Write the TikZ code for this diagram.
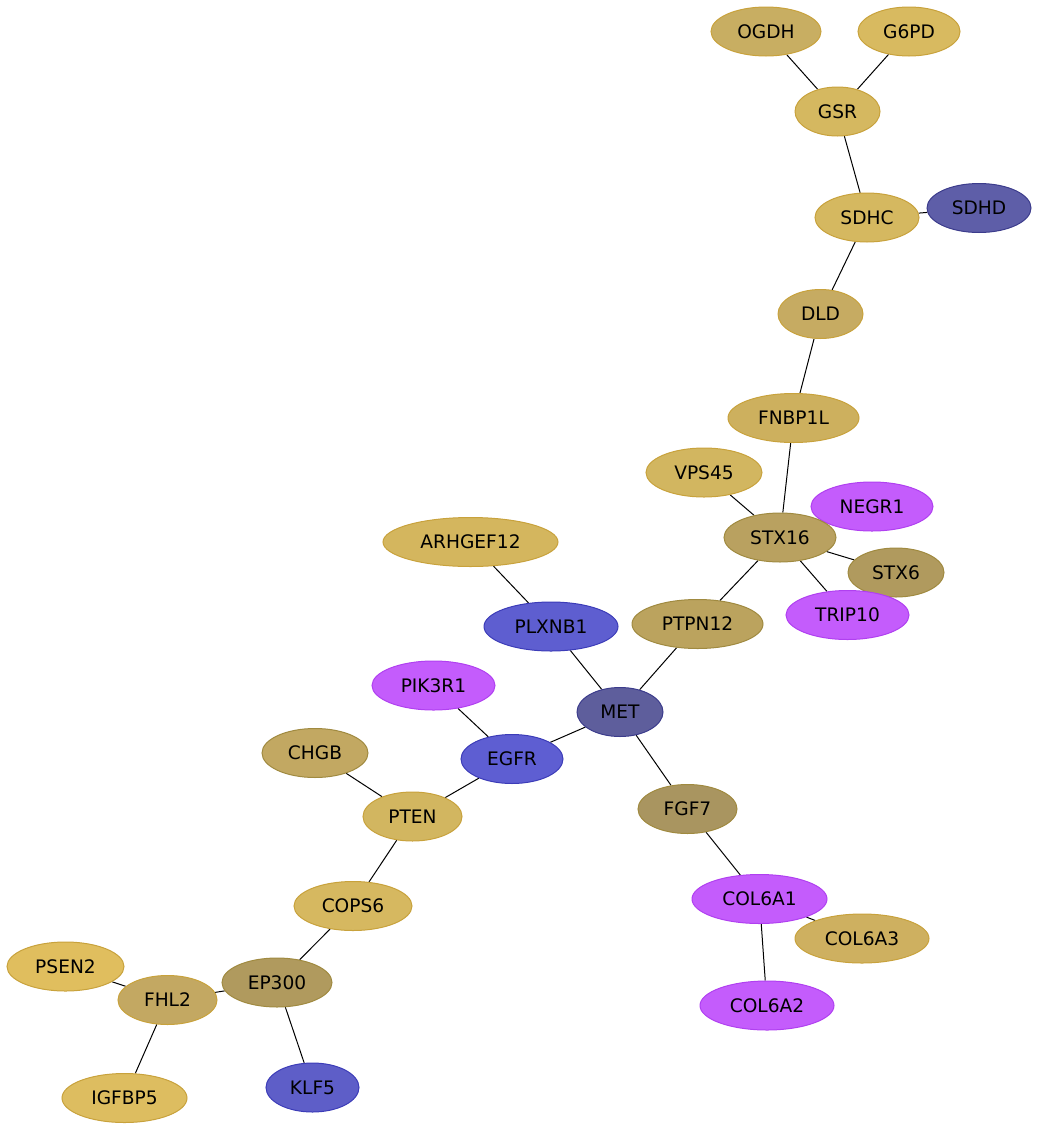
\documentclass[tikz,border=0pt]{standalone}
\usepackage{fontspec}
\setmainfont{DejaVu Sans}
\usetikzlibrary{shapes.geometric}
\pgfdeclarelayer{background}
\pgfsetlayers{background,main}
\definecolor{gstroke}{HTML}{C8A23C}
\definecolor{bstroke}{HTML}{A08A40}
\definecolor{pstroke}{HTML}{B040F0}
\definecolor{blstroke}{HTML}{3C3CB8}
\definecolor{dbstroke}{HTML}{3C3C8C}
\definecolor{purp}{HTML}{C45CFC}
\tikzset{
  gn/.style={ellipse, draw, line width=1pt, minimum height=49pt, inner sep=0pt,
    font=\fontsize{18.6}{22}\selectfont, text=black},
  gold/.style={gn, draw=gstroke},
  brown/.style={gn, draw=bstroke},
  purple/.style={gn, draw=pstroke, fill=purp},
  blue/.style={gn, draw=blstroke},
  dblue/.style={gn, draw=dbstroke},
  edge/.style={draw=black, line width=1pt}
}
\begin{document}
\begin{tikzpicture}[x=1pt,y=-1pt]
\useasboundingbox (0,0) rectangle (1038,1130);
\node[gold, fill={rgb,255:red,200;green,174;blue,98}, minimum width=110pt] (OGDH) at (766,31.5) {OGDH};
\node[gold, fill={rgb,255:red,216;green,186;blue,96}, minimum width=102pt] (G6PD) at (909,31.5) {G6PD};
\node[gold, fill={rgb,255:red,213;green,184;blue,96}, minimum width=85pt] (GSR) at (837.5,111.5) {GSR};
\node[gold, fill={rgb,255:red,213;green,184;blue,96}, minimum width=104pt] (SDHC) at (867,217.5) {SDHC};
\node[dblue, fill={rgb,255:red,94;green,94;blue,168}, minimum width=104pt] (SDHD) at (979,208) {SDHD};
\node[gold, fill={rgb,255:red,198;green,171;blue,98}, minimum width=85pt] (DLD) at (820.5,314) {DLD};
\node[gold, fill={rgb,255:red,205;green,176;blue,94}, minimum width=131pt] (FNBP1L) at (793.5,418) {FNBP1L};
\node[gold, fill={rgb,255:red,210;green,182;blue,96}, minimum width=116pt] (VPS45) at (704,472.5) {VPS45};
\node[purple, minimum width=122pt] (NEGR1) at (872,506.5) {NEGR1};
\node[brown, fill={rgb,255:red,185;green,161;blue,96}, minimum width=112pt] (STX16) at (780,537.5) {STX16};
\node[brown, fill={rgb,255:red,176;green,154;blue,94}, minimum width=96pt] (STX6) at (896,572.5) {STX6};
\node[purple, minimum width=123pt] (TRIP10) at (847.5,615) {TRIP10};
\node[gold, fill={rgb,255:red,212;green,182;blue,94}, minimum width=175pt] (ARHGEF12) at (470.5,542) {ARHGEF12};
\node[blue, fill={rgb,255:red,94;green,94;blue,208}, minimum width=134pt] (PLXNB1) at (551,626.5) {PLXNB1};
\node[brown, fill={rgb,255:red,187;green,163;blue,94}, minimum width=131pt] (PTPN12) at (697.5,624) {PTPN12};
\node[purple, minimum width=123pt] (PIK3R1) at (433.5,685.5) {PIK3R1};
\node[dblue, fill={rgb,255:red,94;green,94;blue,156}, minimum width=86pt] (MET) at (620,712) {MET};
\node[brown, fill={rgb,255:red,194;green,168;blue,98}, minimum width=106pt] (CHGB) at (315,753) {CHGB};
\node[blue, fill={rgb,255:red,94;green,94;blue,210}, minimum width=102pt] (EGFR) at (512,759) {EGFR};
\node[gold, fill={rgb,255:red,210;green,182;blue,96}, minimum width=99pt] (PTEN) at (412.5,816.5) {PTEN};
\node[brown, fill={rgb,255:red,169;green,149;blue,96}, minimum width=99pt] (FGF7) at (687.5,809) {FGF7};
\node[gold, fill={rgb,255:red,214;green,184;blue,96}, minimum width=118pt] (COPS6) at (353,906) {COPS6};
\node[purple, minimum width=135pt] (COL6A1) at (759.5,899) {COL6A1};
\node[gold, fill={rgb,255:red,206;green,176;blue,96}, minimum width=134pt] (COL6A3) at (862,938.5) {COL6A3};
\node[gold, fill={rgb,255:red,224;green,190;blue,94}, minimum width=117pt] (PSEN2) at (65.5,966.5) {PSEN2};
\node[brown, fill={rgb,255:red,176;green,154;blue,94}, minimum width=110pt] (EP300) at (277,982.5) {EP300};
\node[gold, fill={rgb,255:red,195;green,168;blue,98}, minimum width=99pt] (FHL2) at (167.5,1000) {FHL2};
\node[purple, minimum width=134pt] (COL6A2) at (767,1005.5) {COL6A2};
\node[gold, fill={rgb,255:red,221;green,189;blue,96}, minimum width=125pt] (IGFBP5) at (124.5,1098) {IGFBP5};
\node[blue, fill={rgb,255:red,94;green,94;blue,200}, minimum width=93pt] (KLF5) at (312.5,1087.5) {KLF5};
\begin{pgfonlayer}{background}
\draw[edge] (OGDH) -- (GSR);
\draw[edge] (G6PD) -- (GSR);
\draw[edge] (GSR) -- (SDHC);
\draw[edge] (SDHC) -- (SDHD);
\draw[edge] (SDHC) -- (DLD);
\draw[edge] (DLD) -- (FNBP1L);
\draw[edge] (FNBP1L) -- (STX16);
\draw[edge] (VPS45) -- (STX16);
\draw[edge] (STX16) -- (NEGR1);
\draw[edge] (STX16) -- (STX6);
\draw[edge] (STX16) -- (TRIP10);
\draw[edge] (STX16) -- (PTPN12);
\draw[edge] (PTPN12) -- (MET);
\draw[edge] (ARHGEF12) -- (PLXNB1);
\draw[edge] (PLXNB1) -- (MET);
\draw[edge] (MET) -- (EGFR);
\draw[edge] (PIK3R1) -- (EGFR);
\draw[edge] (MET) -- (FGF7);
\draw[edge] (EGFR) -- (PTEN);
\draw[edge] (CHGB) -- (PTEN);
\draw[edge] (PTEN) -- (COPS6);
\draw[edge] (COPS6) -- (EP300);
\draw[edge] (EP300) -- (FHL2);
\draw[edge] (FHL2) -- (PSEN2);
\draw[edge] (FHL2) -- (IGFBP5);
\draw[edge] (EP300) -- (KLF5);
\draw[edge] (FGF7) -- (COL6A1);
\draw[edge] (COL6A1) -- (COL6A3);
\draw[edge] (COL6A1) -- (COL6A2);
\end{pgfonlayer}
\end{tikzpicture}
\end{document}
